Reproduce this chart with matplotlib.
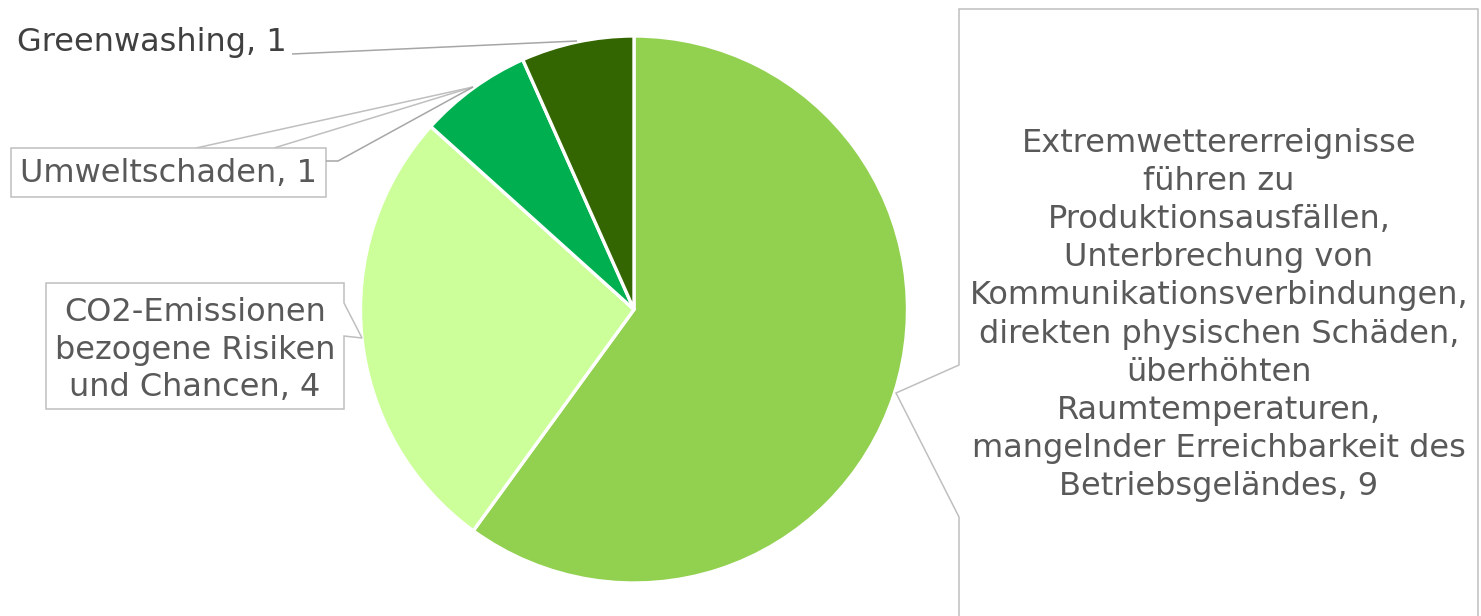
import matplotlib
matplotlib.use("Agg")
import matplotlib.pyplot as plt
from matplotlib.patches import Polygon

# data
categories = [
    "Extremwettererreignisse\nführen zu\nProduktionsausfällen,\nUnterbrechung von\nKommunikationsverbindungen,\ndirekten physischen Schäden,\nüberhöhten\nRaumtemperaturen,\nmangelnder Erreichbarkeit des\nBetriebsgeländes",
    "CO2-Emissionen\nbezogene Risiken\nund Chancen",
    "Umweltschaden",
    "Greenwashing",
]
values = [9, 4, 1, 1]
colors = ["#92D050", "#CCFF99", "#00B050", "#336600"]

W, H = 1481, 616
fig = plt.figure(figsize=(W / 100, H / 100), dpi=100)
ax = fig.add_axes([0, 0, 1, 1])


def Y(py):
    # pixel row -> data y
    return H - py


ax.pie(values, colors=colors, startangle=90, counterclock=False,
       center=(634, Y(309.5)), radius=273.5, frame=True,
       wedgeprops=dict(edgecolor="white", linewidth=2.4))
ax.set_xlim(0, W)
ax.set_ylim(0, H)
ax.set_aspect("equal")
ax.axis("off")

box_col = "#BFBFBF"
line_col = "#A6A6A6"
txt_col = "#595959"
fs = 23


def poly(pts):
    p = Polygon([(x, Y(y)) for x, y in pts], closed=True, facecolor="white",
                edgecolor=box_col, linewidth=1.1, zorder=3)
    ax.add_patch(p)


def line(pts, col=line_col):
    ax.plot([p[0] for p in pts], [Y(p[1]) for p in pts], color=col,
            linewidth=1.1, zorder=3, solid_capstyle="butt")


def label(i, x, y, col=txt_col, ha="center", ls=1.26):
    ax.text(x, Y(y), f"{categories[i]}, {values[i]}", ha=ha, va="center",
            fontsize=fs, color=col, linespacing=ls, zorder=4)


# Extremwetter callout
poly([(959, 9), (1478, 9), (1478, 640), (959, 640), (959, 517),
      (896, 393), (959, 365)])
label(0, 1219, 315, ls=1.3)

# CO2 callout
poly([(46, 283), (344, 283), (344, 303), (362, 338), (344, 336),
      (344, 409), (46, 409)])
label(1, 195, 350)

# Umweltschaden callout
line([(196, 148), (473, 87)], box_col)
line([(274, 148), (473, 87)], box_col)
poly([(10.5, 148), (326, 148), (326, 197), (10.5, 197)])
line([(326, 161), (338, 161), (473, 87)])
label(2, 168, 174)

# Greenwashing label
line([(292, 54), (577, 41)])
label(3, 17, 43, col="#404040", ha="left")

fig.savefig("out.png", dpi=100)
